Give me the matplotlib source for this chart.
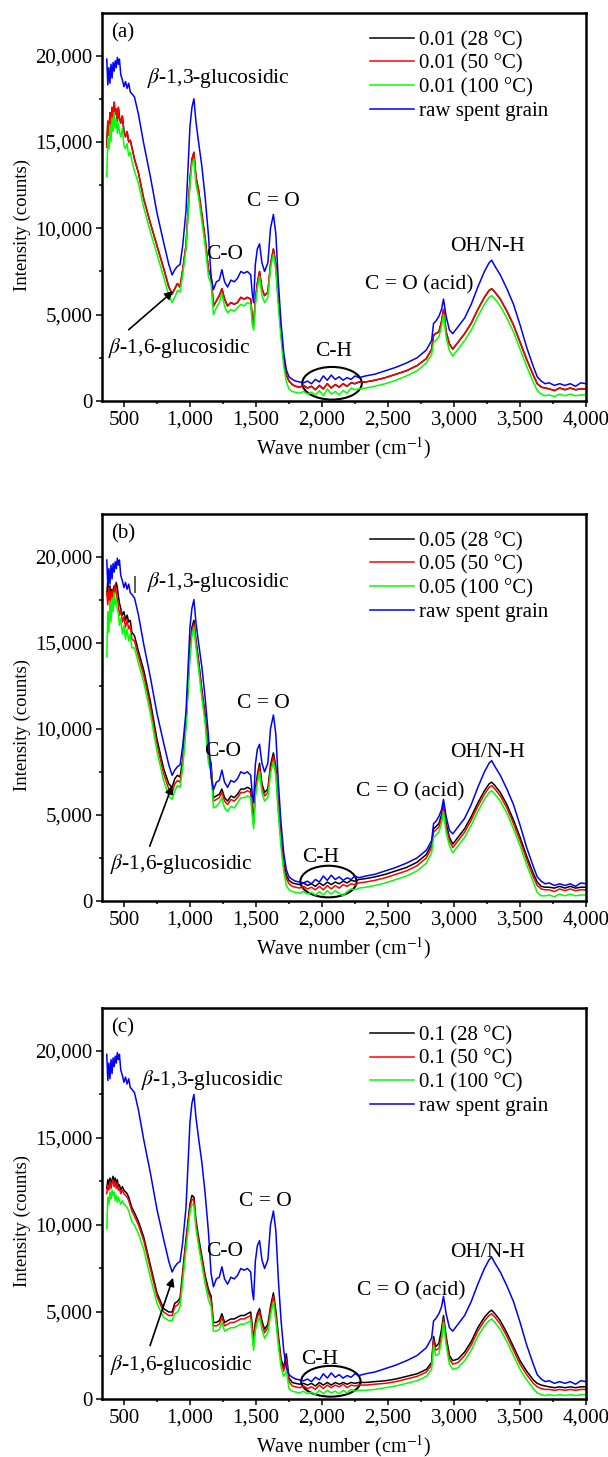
import matplotlib.pyplot as plt
from matplotlib.patches import Ellipse
from matplotlib.ticker import MultipleLocator, StrMethodFormatter

plt.rcParams['font.family'] = ['Liberation Serif', 'DejaVu Serif']
plt.rcParams['mathtext.fontset'] = 'stix'
plt.rcParams['font.size'] = 15

# wave number grid shared by every trace (cm-1)
wavenumber = [
    370, 378, 386, 394, 402, 410, 418, 426, 434, 442, 450, 458, 466, 476, 488, 500, 512, 524, 536, 548, 560,
    580, 610, 650, 700, 750, 800, 840, 865, 885, 905, 925, 945,
    970, 1000, 1015, 1030, 1045, 1065, 1090, 1115, 1140, 1160,
    1178, 1200, 1222, 1242, 1262, 1285, 1310, 1335, 1360, 1385, 1410, 1435, 1460, 1472, 1482,
    1495, 1510, 1527, 1545, 1565, 1590, 1610, 1632, 1650, 1670, 1690, 1710, 1730, 1750,
    1775, 1800, 1830, 1860, 1890, 1920, 1950, 1980, 2010, 2040, 2070, 2100, 2130, 2160, 2190, 2220, 2250, 2280,
    2330, 2400, 2480, 2560, 2640, 2720, 2790, 2830, 2845, 2860, 2885, 2905, 2920, 2940, 2965, 2990,
    3030, 3080, 3130, 3180, 3230, 3265, 3285, 3310, 3350, 3400, 3450, 3500, 3550, 3600, 3630, 3660, 3690,
    3720, 3760, 3800, 3840, 3880, 3920, 3960, 4000,
]

raw_grain = [
    19800, 18300, 19300, 18400, 19500, 18700, 19600, 19100, 19700, 19300, 19900, 19500, 19800, 18900, 18600, 18200, 18500, 18100, 18400, 17900, 17800,
    17600, 16600, 14900, 13000, 10900, 9200, 7900, 7300, 7600, 7800, 7900, 9000,
    11000, 15900, 17000, 17500, 16200, 15000, 13600, 11800, 9600, 7200,
    6450, 6900, 7000, 7600, 6900, 6600, 7000, 6900, 7100, 7500, 7400, 7500, 7300, 6200, 5700,
    7900, 8800, 9100, 8000, 7500, 8000, 10000, 10800, 9700, 6800, 4500, 2800, 1800, 1400,
    1250, 1150, 1100, 1050, 1150, 1000, 1250, 1100, 1450, 1200, 1500, 1250, 1400, 1200, 1350, 1250, 1450, 1350,
    1450, 1550, 1750, 1950, 2200, 2500, 2950, 3500, 4500, 4600, 4900, 5300, 5900, 4900, 4100, 3900,
    4300, 4800, 5600, 6600, 7500, 8000, 8150, 7800, 7300, 6500, 5600, 4400, 3100, 2000, 1400, 1150, 1000,
    1050, 900, 1000, 900, 1000, 850, 1050, 1000,
]

# (a) 0.01
red_a = [
    14700, 16200, 15400, 16700, 15700, 17000, 16300, 17300, 16600, 16900, 16200, 17000, 16400, 16100, 16500, 15600, 15300, 15600, 15000, 15100, 14700,
    14000, 13200, 11700, 10300, 9000, 7700, 6600, 6200, 6500, 6800, 6600, 7600,
    9000, 12800, 14000, 14400, 13000, 12200, 10800, 9400, 7600, 7200,
    5500, 5800, 6100, 6500, 5900, 5500, 5700, 5600, 5700, 6000, 5900, 6000, 5900, 4800, 4400,
    5800, 6800, 7500, 6500, 6100, 6300, 7900, 8800, 7900, 5800, 4000, 2400, 1500, 1150,
    950, 850, 800, 900, 750, 850, 650, 900, 700, 1000, 750, 950, 800, 1000, 850, 1050, 1000, 1100,
    1100, 1200, 1350, 1550, 1750, 2050, 2450, 3000, 3800, 3900, 4000, 4600, 5300, 4000, 3300, 3000,
    3400, 3900, 4500, 5300, 6000, 6400, 6500, 6300, 5900, 5200, 4400, 3400, 2400, 1500, 1000, 800, 750,
    700, 600, 750, 650, 750, 650, 700, 700,
]
black_a = list(red_a)  # the 28 °C trace sits hidden under the 50 °C one
green_a = [
    13000, 15200, 14600, 16000, 15000, 16400, 15600, 16700, 15800, 16300, 15500, 16100, 15600, 15300, 15800, 14800, 14600, 14900, 14200, 14400, 13900,
    13300, 12600, 11200, 9800, 8500, 7200, 6100, 5700, 6000, 6400, 6300, 7300,
    8800, 12500, 13700, 14000, 12600, 11800, 10400, 9000, 7200, 6800,
    5000, 5400, 5700, 6200, 5500, 5100, 5300, 5200, 5400, 5600, 5500, 5700, 5600, 4400, 4100,
    5500, 6500, 7200, 6100, 5700, 6000, 7700, 8500, 7600, 5400, 3600, 2000, 1100, 700,
    550, 500, 450, 550, 400, 500, 350, 600, 300, 700, 400, 550, 350, 600, 450, 750, 650, 700,
    750, 850, 1000, 1200, 1450, 1750, 2200, 2700, 3400, 3500, 3700, 4300, 5000, 3700, 2900, 2600,
    3000, 3500, 4100, 4900, 5600, 6000, 6100, 5900, 5500, 4800, 4000, 3000, 2000, 1100, 600, 400, 300,
    350, 250, 400, 300, 400, 300, 350, 350,
]

# (b) 0.05
black_b = [
    17800, 18600, 17600, 18300, 17500, 18100, 17900, 18300, 18000, 18500, 18200, 17700, 17300, 17000, 16600, 16800, 16300, 16600, 16200, 16300, 15600,
    15400, 14500, 13400, 11600, 9400, 7700, 6800, 6600, 7100, 7300, 7200, 8200,
    10500, 14600, 15900, 16300, 15200, 14000, 12300, 10800, 8500, 8000,
    6000, 6100, 6200, 6500, 6000, 5800, 6100, 6000, 6200, 6500, 6500, 6600, 6500, 5400, 4600,
    6500, 7300, 8000, 6800, 6300, 6500, 7900, 8600, 7800, 5500, 3600, 2200, 1500, 1200,
    1050, 1000, 950, 1050, 900, 1000, 850, 1050, 900, 1100, 950, 1100, 1000, 1150, 1050, 1200, 1150, 1250,
    1300, 1400, 1550, 1750, 1950, 2250, 2700, 3300, 4200, 4300, 4500, 5000, 5700, 4500, 3700, 3300,
    3700, 4200, 4900, 5700, 6400, 6800, 6900, 6700, 6300, 5600, 4700, 3700, 2600, 1600, 1100, 850, 800,
    800, 750, 850, 750, 850, 750, 800, 800,
]
red_b = [
    17900, 17200, 18200, 17300, 18000, 17500, 18100, 17700, 18400, 17900, 17500, 17200, 16600, 16900, 16200, 16500, 15900, 16300, 15800, 16000, 15200,
    15100, 14200, 13100, 11300, 9100, 7400, 6500, 6300, 6800, 7000, 6900, 8000,
    10300, 14400, 15700, 16100, 15000, 13800, 12100, 10600, 8300, 7800,
    5800, 5900, 6000, 6300, 5800, 5600, 5900, 5800, 6000, 6300, 6300, 6400, 6300, 5200, 4500,
    6300, 7100, 7800, 6600, 6100, 6300, 7700, 8400, 7600, 5300, 3400, 2000, 1300, 1000,
    850, 800, 750, 850, 700, 800, 650, 850, 650, 900, 700, 900, 750, 950, 850, 1000, 950, 1050,
    1100, 1200, 1350, 1550, 1750, 2050, 2500, 3100, 4000, 4100, 4300, 4800, 5500, 4300, 3500, 3100,
    3500, 4000, 4700, 5500, 6200, 6600, 6700, 6500, 6100, 5400, 4500, 3500, 2400, 1400, 900, 700, 650,
    650, 550, 700, 600, 700, 600, 650, 650,
]
green_b = [
    14200, 16800, 15600, 17400, 16200, 17600, 16800, 17900, 17200, 17500, 16900, 16700, 16000, 16400, 15500, 16000, 15200, 15800, 15100, 15500, 14700,
    14700, 13800, 12700, 10900, 8700, 7000, 6100, 5900, 6400, 6700, 6600, 7700,
    10000, 14100, 15400, 15900, 14800, 13500, 11800, 10300, 8000, 7500,
    5400, 5500, 5700, 6000, 5400, 5200, 5500, 5400, 5700, 6000, 6000, 6100, 6000, 4900, 4200,
    6000, 6800, 7500, 6300, 5800, 6000, 7400, 8100, 7300, 5000, 3100, 1700, 900, 650,
    550, 500, 450, 550, 400, 500, 350, 550, 350, 600, 400, 600, 450, 300, 550, 700, 650, 750,
    800, 900, 1050, 1250, 1450, 1750, 2200, 2800, 3700, 3800, 4000, 4500, 5200, 4000, 3200, 2800,
    3200, 3700, 4400, 5200, 5900, 6300, 6400, 6200, 5800, 5100, 4200, 3200, 2100, 1100, 500, 300, 300,
    350, 250, 400, 300, 400, 300, 350, 350,
]

# (c) 0.1
black_c = [
    12100, 12600, 12300, 12700, 12400, 12600, 12800, 12400, 12700, 12300, 12600, 12200, 12300, 12000, 12200, 12000, 11900, 11800, 11600, 11300, 11000,
    10700, 10200, 9300, 7700, 6100, 5200, 5000, 5000, 5500, 5600, 5800, 7300,
    9200, 11200, 11700, 11600, 10300, 9300, 8200, 7100, 6300, 5900,
    4400, 4400, 4500, 4900, 4400, 4500, 4600, 4600, 4700, 4800, 4800, 4900, 5000, 4200, 3300,
    4400, 4900, 5200, 4500, 4000, 4300, 5300, 6100, 5100, 3600, 2300, 1800, 2600, 1200,
    950, 900, 850, 900, 800, 900, 750, 950, 800, 950, 800, 950, 850, 950, 850, 950, 900, 950,
    950, 1000, 1050, 1150, 1300, 1450, 1700, 2100, 3600, 3000, 3200, 4000, 4800, 3600, 2500, 2200,
    2300, 2700, 3300, 4100, 4700, 5000, 5100, 4900, 4500, 3800, 3000, 2200, 1600, 1100, 900, 800, 750,
    700, 650, 700, 650, 700, 650, 700, 700,
]
red_c = [
    11800, 12300, 12000, 12500, 12100, 12400, 12600, 12200, 12500, 12100, 12400, 12000, 12100, 11800, 12000, 11800, 11700, 11600, 11400, 11100, 10800,
    10500, 10000, 9100, 7500, 5900, 5000, 4800, 4800, 5300, 5400, 5600, 7100,
    9000, 11000, 11500, 11400, 10100, 9100, 8000, 6900, 6100, 5700,
    4200, 4200, 4300, 4700, 4200, 4300, 4400, 4400, 4500, 4600, 4600, 4700, 4800, 4000, 3100,
    4200, 4700, 5000, 4300, 3800, 4100, 5100, 5900, 4900, 3400, 2100, 1600, 2300, 1000,
    750, 700, 650, 750, 600, 700, 550, 800, 600, 800, 650, 800, 700, 850, 650, 800, 750, 800,
    800, 850, 900, 1000, 1150, 1300, 1550, 1950, 3400, 2800, 2900, 3600, 4600, 3400, 2300, 2000,
    2100, 2500, 3100, 3900, 4500, 4800, 4900, 4700, 4300, 3600, 2800, 2000, 1400, 900, 700, 600, 550,
    550, 500, 550, 500, 550, 500, 550, 550,
]
green_c = [
    9800, 11600, 11200, 11900, 11500, 12000, 11700, 11900, 11400, 11700, 11300, 11600, 11400, 11200, 11400, 11200, 11100, 11000, 10800, 10500, 10200,
    10000, 9500, 8600, 7000, 5500, 4700, 4500, 4500, 4900, 5000, 5300, 6700,
    8600, 10700, 11200, 11100, 9800, 8800, 7700, 6600, 5700, 5300,
    3900, 3900, 4000, 4400, 3900, 4000, 4100, 4100, 4200, 4300, 4300, 4400, 4500, 3600, 2800,
    3900, 4400, 4700, 4000, 3500, 3800, 4800, 5600, 4500, 3000, 1800, 1300, 1600, 600,
    450, 400, 350, 450, 300, 400, 250, 500, 300, 500, 350, 450, 300, 500, 350, 550, 450, 500,
    500, 550, 650, 750, 900, 1050, 1300, 1700, 3100, 2500, 2600, 3300, 4400, 3100, 2000, 1700,
    1800, 2200, 2800, 3600, 4200, 4500, 4600, 4400, 4000, 3300, 2500, 1700, 1100, 600, 350, 250, 200,
    250, 200, 250, 200, 250, 200, 250, 250,
]

panel_tags = ['(a)', '(b)', '(c)']
ratios = ['0.01', '0.05', '0.1']
temperatures = ['28 °C', '50 °C', '100 °C']
treated = [
    [black_a, red_a, green_a],
    [black_b, red_b, green_b],
    [black_c, red_c, green_c],
]
colors = ['#000000', '#ff0000', '#00ff00']
raw_color = '#0000ff'

fig = plt.figure(figsize=(6.08, 14.57), dpi=100)
rects = [
    [0.168, 0.7248, 0.796, 0.2663],
    [0.168, 0.3816, 0.796, 0.2656],
    [0.168, 0.0398, 0.796, 0.2684],
]

# label anchors per panel (data coords), tuned by eye against the figure
label_pos = [
    dict(b13=(674, 18700), co=(1265, 8500), c_o=(1632, 11550), acid=(2740, 6720), oh=(3255, 8940),
         ch=(2088, 2860), b16=(381, 3090), arrow=((520, 4020), (889, 6470)), ell=((2076, 1025), 451, 1890)),
    dict(b13=(676, 18550), co=(1247, 8710), c_o=(1558, 11480), acid=(2667, 6350), oh=(3255, 8650),
         ch=(1991, 2500), b16=(394, 2170), arrow=((688, 3030), (873, 6860)), ell=((2049, 1130), 426, 1835)),
    dict(b13=(629, 18350), co=(1261, 8500), c_o=(1570, 11350), acid=(2676, 6190), oh=(3255, 8440),
         ch=(1982, 2290), b16=(397, 1960), arrow=((691, 2920), (879, 7120)), ell=((2067, 1020), 450, 1770)),
]
note_size = 15.5

for i in range(3):
    ax = fig.add_axes(rects[i])
    for series, color, temp in zip(treated[i], colors, temperatures):
        ax.plot(wavenumber, series, color=color, lw=1.1, label=f'{ratios[i]} ({temp})')
    ax.plot(wavenumber, raw_grain, color=raw_color, lw=1.1, label='raw spent grain')

    ax.set_xlim(335, 4000)
    ax.set_ylim(0, 22470)
    ax.xaxis.set_major_locator(MultipleLocator(500))
    ax.xaxis.set_minor_locator(MultipleLocator(250))
    ax.yaxis.set_major_locator(MultipleLocator(5000))
    ax.yaxis.set_minor_locator(MultipleLocator(2500))
    ax.xaxis.set_major_formatter(StrMethodFormatter('{x:,.0f}'))
    ax.yaxis.set_major_formatter(StrMethodFormatter('{x:,.0f}'))
    ax.tick_params(which='major', direction='out', length=4, width=1.1, pad=3)
    ax.tick_params(which='minor', direction='out', length=2, width=1.1)
    for sp in ax.spines.values():
        sp.set_linewidth(1.8)

    ax.set_xlabel('Wave number (cm$^{-1}$)', fontsize=14.5, labelpad=4)
    ax.set_ylabel('Intensity (counts)', fontsize=13.5)
    ax.yaxis.set_label_coords(-0.148, 0.454)

    ax.legend(loc='upper left', bbox_to_anchor=(0.554, 0.955), frameon=False,
              handlelength=2.1, handletextpad=0.23, labelspacing=0.2,
              borderaxespad=0, borderpad=0)

    ax.text(0.018, 0.95, panel_tags[i], transform=ax.transAxes, va='center', ha='left')

    p = label_pos[i]
    ax.text(*p['b13'], r'$\beta$-1,3-glucosidic', ha='left', va='center', fontsize=note_size)
    ax.text(*p['co'], 'C-O', ha='center', va='center', fontsize=note_size)
    ax.text(*p['c_o'], 'C = O', ha='center', va='center', fontsize=note_size)
    ax.text(*p['acid'], 'C = O (acid)', ha='center', va='center', fontsize=note_size)
    ax.text(*p['oh'], 'OH/N-H', ha='center', va='center', fontsize=note_size)
    ax.text(*p['ch'], 'C-H', ha='center', va='center', fontsize=note_size)
    ax.text(*p['b16'], r'$\beta$-1,6-glucosidic', ha='left', va='center', fontsize=note_size)
    start, end = p['arrow']
    ax.annotate('', xy=end, xytext=start,
                arrowprops=dict(arrowstyle='-|>', color='black', lw=1.2, mutation_scale=12))
    center, w, h = p['ell']
    ax.add_patch(Ellipse(center, w, h, fill=False, ec='black', lw=1.5))
    if i == 1:
        ax.text(579, 18400, '|', ha='center', va='center', fontsize=13, fontweight='bold')

fig.savefig('out.png', dpi=100)
